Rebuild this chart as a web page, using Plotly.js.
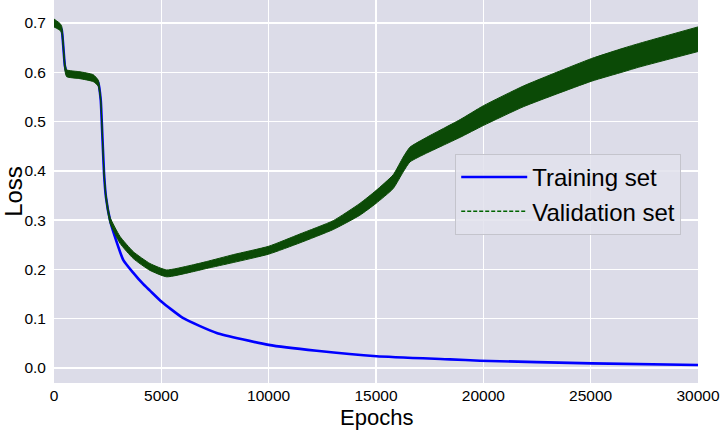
<!DOCTYPE html>
<html>
<head>
<meta charset="utf-8">
<script src="https://cdn.plot.ly/plotly-3.0.1.min.js"></script>
<style>html,body{margin:0;padding:0;background:#fff;}#chart{width:720px;height:431px;}</style>
</head>
<body>
<div id="chart"></div>
<script>
// Training loss
const trainEpochs = [0, 280, 360, 510, 590, 1210, 1830, 2060, 2175, 2220, 2330, 2420, 2610, 2840, 3230, 3695, 4160, 4472, 5000, 6025, 7578, 10000, 12236, 15030, 18450, 19845, 25050, 30000];
const trainLoss   = [0.700, 0.692, 0.686, 0.612, 0.601, 0.596, 0.589, 0.579, 0.545, 0.505, 0.395, 0.347, 0.300, 0.266, 0.219, 0.193, 0.170, 0.157, 0.135, 0.101, 0.071, 0.047, 0.035, 0.024, 0.0176, 0.0148, 0.0095, 0.006];

// Validation loss: noisy band, upper and lower envelope
const valEpochs = [0, 280, 360, 510, 590, 1210, 1830, 2060, 2175, 2220, 2330, 2420, 2610, 3075, 3695, 4472, 5250, 6335, 7112, 8350, 10000, 11460, 13010, 14250, 15000, 15800, 16270, 16580, 17360, 18140, 18920, 20000, 21860, 23420, 25050, 26530, 27300, 30000];
const valUpper  = [0.708, 0.699, 0.693, 0.619, 0.605, 0.601, 0.595, 0.584, 0.549, 0.510, 0.400, 0.353, 0.306, 0.267, 0.236, 0.212, 0.199, 0.208, 0.216, 0.230, 0.247, 0.272, 0.299, 0.334, 0.360, 0.392, 0.428, 0.448, 0.468, 0.486, 0.504, 0.532, 0.572, 0.600, 0.628, 0.649, 0.659, 0.692];
const valLower  = [0.692, 0.685, 0.679, 0.603, 0.591, 0.587, 0.581, 0.572, 0.539, 0.500, 0.390, 0.341, 0.294, 0.253, 0.222, 0.198, 0.185, 0.194, 0.202, 0.214, 0.231, 0.254, 0.281, 0.310, 0.334, 0.364, 0.398, 0.418, 0.436, 0.452, 0.468, 0.492, 0.530, 0.556, 0.582, 0.601, 0.611, 0.642];

const xTicks = [0, 5000, 10000, 15000, 20000, 25000, 30000];
const yTicks = [0.0, 0.1, 0.2, 0.3, 0.4, 0.5, 0.6, 0.7];
const xTitle = 'Epochs';
const yTitle = 'Loss';

const font = 'Liberation Sans, Arial, sans-serif';
const valColor = '#0b4a06';

const traces = [
  {x: trainEpochs, y: trainLoss, mode: 'lines', name: 'Training set',
   line: {color: '#0000ff', width: 2.6, shape: 'spline', smoothing: 0.5}, hoverinfo: 'skip'},
  {x: valEpochs, y: valLower, mode: 'lines', showlegend: false,
   line: {color: valColor, width: 1, shape: 'spline', smoothing: 0.5}, hoverinfo: 'skip'},
  {x: valEpochs, y: valUpper, mode: 'lines', showlegend: false, fill: 'tonexty',
   fillcolor: valColor, line: {color: valColor, width: 1, shape: 'spline', smoothing: 0.5}, hoverinfo: 'skip'},
  {x: [null], y: [null], mode: 'lines', name: 'Validation set',
   line: {color: '#006400', width: 1.5, dash: '4px,2px'}}
];

const layout = {
  width: 720, height: 431,
  margin: {l: 54, r: 22, t: 0, b: 48},
  paper_bgcolor: '#ffffff',
  plot_bgcolor: '#dcdce8',
  font: {family: font, color: '#000', size: 16},
  showlegend: true,
  legend: {
    x: 0.623, y: 0.598, xanchor: 'left', yanchor: 'top',
    traceorder: 'normal',
    bgcolor: 'rgba(226,226,236,0.85)', bordercolor: '#c4c4cc', borderwidth: 1,
    font: {family: font, size: 24, color: '#000'},
    itemwidth: 66
  },
  xaxis: {
    range: [0, 30000.5], tickvals: xTicks, ticktext: xTicks.map(String),
    showgrid: true, gridcolor: '#ffffff', gridwidth: 1.3, zeroline: false,
    showline: false, ticks: '', ticklabelstandoff: 1, ticklabeloverflow: 'allow',
    tickfont: {family: font, size: 15.5}
  },
  yaxis: {
    range: [-0.0304, 0.7466], tickvals: yTicks, ticktext: yTicks.map(v => v.toFixed(1)),
    showgrid: true, gridcolor: '#ffffff', gridwidth: 1.3, zeroline: false,
    showline: false, ticks: '', ticklabelstandoff: 7,
    tickfont: {family: font, size: 15.5},
    title: {text: yTitle, font: {family: font, size: 24}, standoff: 6}
  },
  annotations: [{
    text: xTitle, xref: 'paper', yref: 'paper', x: 0.5, y: -0.053,
    xanchor: 'center', yanchor: 'top', showarrow: false,
    font: {family: font, size: 22, color: '#000'}
  }]
};

Plotly.newPlot('chart', traces, layout, {staticPlot: true, displayModeBar: false});
</script>
</body>
</html>
